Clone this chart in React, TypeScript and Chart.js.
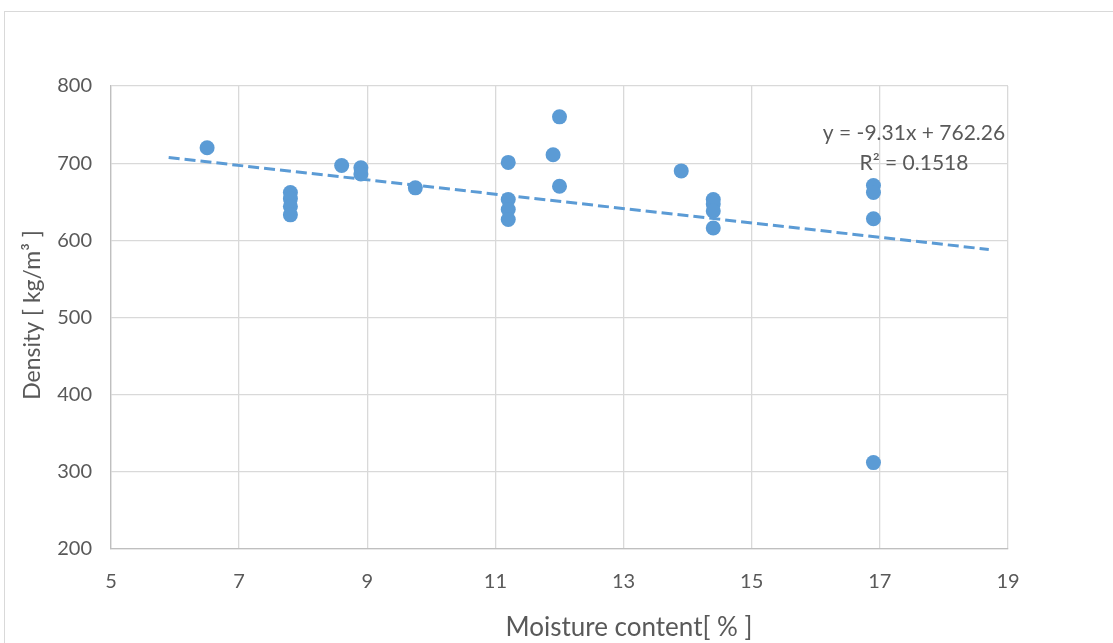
import React, { useEffect, useRef } from "react";
import { Chart, registerables } from "chart.js";

Chart.register(...registerables);

const moisture = [6.5, 7.8, 7.8, 7.8, 7.8, 8.6, 8.9, 8.9, 9.75, 11.2, 11.2, 11.2, 11.2, 11.9, 12.0, 12.0, 13.9, 14.4, 14.4, 14.4, 14.4, 16.9, 16.9, 16.9, 16.9];
const density = [720, 662, 654, 644, 633, 697, 694, 686, 668, 701, 653, 640, 627, 711, 760, 670, 690, 653, 647, 638, 616, 671, 662, 628, 312];

const trendSlope = -9.31;
const trendIntercept = 762.26;
const trendRange = [5.9, 18.7];
const trendLabel = ["y = -9.31x + 762.26", "R² = 0.1518"];

const xTitle = "Moisture content[ % ]";
const yTitle = "Density [ kg/m³ ]";

const FONT = "Lato, 'Open Sans', sans-serif";
const TEXT = "#595959";
const BLUE = "#5b9bd5";

export default function App() {
  const ref = useRef<HTMLCanvasElement | null>(null);

  useEffect(() => {
    if (!ref.current) return;
    const points = moisture.map((x, i) => ({ x, y: density[i] }));
    const trend = trendRange.map((x) => ({ x, y: trendSlope * x + trendIntercept }));

    const decor = {
      id: "decor",
      beforeDraw(chart: any) {
        const ctx = chart.ctx;
        ctx.save();
        ctx.fillStyle = "#ffffff";
        ctx.fillRect(0, 0, chart.width, chart.height);
        ctx.strokeStyle = "#d9d9d9";
        ctx.lineWidth = 1;
        ctx.strokeRect(4.5, 11.5, chart.width + 20, chart.height + 20);
        ctx.restore();
      },
      afterDraw(chart: any) {
        const ctx = chart.ctx;
        ctx.save();
        ctx.fillStyle = TEXT;
        ctx.textAlign = "center";
        ctx.textBaseline = "middle";
        ctx.font = `26px ${FONT}`;
        ctx.fillText(xTitle, 629, 628);
        ctx.font = `23px ${FONT}`;
        ctx.translate(33, 315);
        ctx.rotate(-Math.PI / 2);
        ctx.fillText(yTitle, 0, 0);
        ctx.restore();
        ctx.save();
        ctx.fillStyle = TEXT;
        ctx.textAlign = "center";
        ctx.textBaseline = "middle";
        ctx.font = `21px ${FONT}`;
        ctx.fillText(trendLabel[0], 914, 133);
        ctx.fillText(trendLabel[1], 914, 163);
        ctx.restore();
      },
    };

    const chart = new Chart(ref.current, {
      type: "scatter",
      data: {
        datasets: [
          {
            label: "Density",
            data: points,
            backgroundColor: BLUE,
            borderColor: BLUE,
            borderWidth: 0,
            pointRadius: 7.5,
            pointHoverRadius: 7.5,
          },
          {
            type: "line",
            label: "Trend",
            data: trend,
            borderColor: BLUE,
            borderWidth: 3,
            borderDash: [11, 5],
            pointRadius: 0,
            fill: false,
          } as any,
        ],
      },
      options: {
        responsive: false,
        animation: false,
        layout: { padding: { left: 0, top: 86, right: 105, bottom: 0 } },
        plugins: { legend: { display: false }, tooltip: { enabled: false } },
        scales: {
          x: {
            type: "linear",
            min: 5,
            max: 19,
            afterFit(scale: any) {
              scale.height = 94;
            },
            ticks: { stepSize: 2, color: TEXT, font: { family: FONT, size: 20 }, padding: 21 },
            grid: { color: "#d9d9d9", lineWidth: 1.3, drawTicks: false },
            border: { color: "#bfbfbf", width: 1.3 },
          },
          y: {
            min: 200,
            max: 800,
            afterFit(scale: any) {
              scale.width = 111;
            },
            ticks: { stepSize: 100, color: TEXT, font: { family: FONT, size: 20 }, padding: 19 },
            grid: { color: "#d9d9d9", lineWidth: 1.3, drawTicks: false },
            border: { color: "#bfbfbf", width: 1.3 },
          },
        },
      },
      plugins: [decor],
    });
    return () => chart.destroy();
  }, []);

  return (
    <div style={{ position: "absolute", left: 0, top: 0, width: 1113, height: 643 }}>
      <canvas ref={ref} width={1113} height={643} style={{ width: 1113, height: 643, display: "block" }} />
    </div>
  );
}
